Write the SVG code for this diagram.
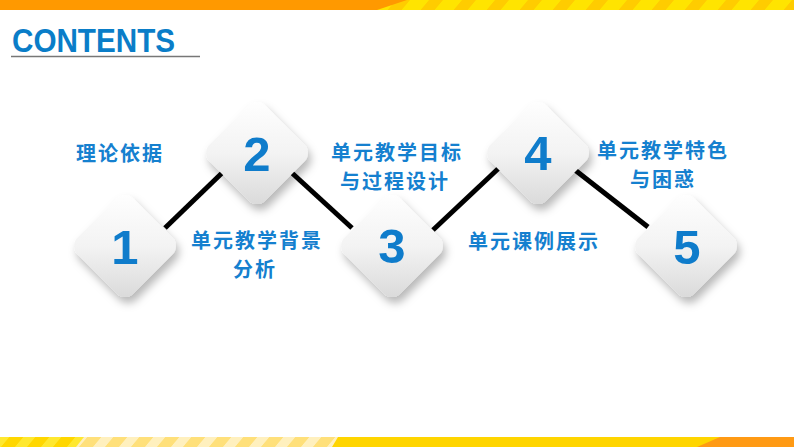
<svg xmlns="http://www.w3.org/2000/svg" width="794" height="447" viewBox="0 0 794 447">
<defs>
<style>
.lbl{font-family:"Noto Sans CJK SC","Noto Sans",sans-serif;font-weight:700;font-size:20px;letter-spacing:2px;fill:#1580CF;text-anchor:middle}
.num{font-family:"Liberation Sans",Arial,sans-serif;font-weight:700;font-size:49px;fill:#0F7CCB;text-anchor:middle}
.con{stroke:#000;stroke-width:5;stroke-linecap:butt;fill:none}
</style>
<linearGradient id="dg" x1="0" y1="0" x2="1" y2="1">
<stop offset="0" stop-color="#FFFFFF"/>
<stop offset="0.5" stop-color="#F3F3F3"/>
<stop offset="1" stop-color="#D8D8D8"/>
</linearGradient>
<filter id="sh" x="-30%" y="-30%" width="170%" height="170%">
<feDropShadow dx="3" dy="6" stdDeviation="4" flood-color="#000" flood-opacity="0.28"/>
</filter>
<pattern id="stripeY" width="33" height="12" patternUnits="userSpaceOnUse" patternTransform="skewX(-40)">
<rect width="33" height="12" fill="#FFE400"/>
<rect width="14" height="12" fill="#FFCC00"/>
</pattern>
<pattern id="stripeB" width="26" height="12" patternUnits="userSpaceOnUse" patternTransform="skewX(-40)">
<rect width="26" height="12" fill="#FFD700"/>
<rect width="12" height="12" fill="#FFE830"/>
</pattern>
<pattern id="stripeP" width="26" height="12" patternUnits="userSpaceOnUse" patternTransform="skewX(-40)">
<rect width="26" height="12" fill="#FFE07A"/>
<rect width="12" height="12" fill="#FFF0BE"/>
</pattern>
<rect id="dia" x="-39.5" y="-39.5" width="79" height="79" rx="12" transform="rotate(45)" fill="url(#dg)"/>
</defs>
<rect width="794" height="447" fill="#FFFFFF"/>

<g id="top-band">
<rect x="0" y="0" width="794" height="10" fill="url(#stripeY)"/>
<polygon points="0,0 407,0 377,10 0,10" fill="#FF9900"/>
</g>
<g id="bottom-band">
<rect x="0" y="437" width="794" height="10" fill="#FFD500"/>
<rect x="0" y="437" width="90" height="10" fill="url(#stripeB)"/>
<polygon points="84,437 338,437 332,447 76,447" fill="url(#stripeP)"/>
<polygon points="720,437 794,437 794,447 697,447" fill="#FF9A14"/>
</g>

<g id="title">
<text x="12" y="52" font-family="Liberation Sans, Arial, sans-serif" font-weight="700" font-size="33" fill="#0A7DC8" textLength="163" lengthAdjust="spacingAndGlyphs">CONTENTS</text>
<line x1="11" y1="56.5" x2="200" y2="56.5" stroke="#777" stroke-width="1.5"/>
</g>

<g id="connectors">
<line class="con" x1="165" y1="228" x2="222" y2="173"/>
<line class="con" x1="292" y1="173" x2="352" y2="228"/>
<line class="con" x1="433" y1="230" x2="500" y2="167"/>
<line class="con" x1="575" y1="170" x2="648" y2="227"/>
</g>

<g id="node1" filter="url(#sh)"><use href="#dia" x="125" y="246"/></g>
<g id="node2" filter="url(#sh)"><use href="#dia" x="257" y="153"/></g>
<g id="node3" filter="url(#sh)"><use href="#dia" x="392" y="246"/></g>
<g id="node4" filter="url(#sh)"><use href="#dia" x="538" y="153"/></g>
<g id="node5" filter="url(#sh)"><use href="#dia" x="686" y="246"/></g>

<g id="numbers">
<text class="num" x="125" y="264">1</text>
<text class="num" x="257" y="171">2</text>
<text class="num" x="392" y="263">3</text>
<text class="num" x="538" y="170">4</text>
<text class="num" x="687" y="264">5</text>
</g>

<g id="label1"><text class="lbl" x="120" y="161">理论依据</text></g>
<g id="label2"><text class="lbl"><tspan x="257" y="248">单元教学背景</tspan><tspan x="255" y="277">分析</tspan></text></g>
<g id="label3"><text class="lbl"><tspan x="397" y="160">单元教学目标</tspan><tspan x="395" y="189">与过程设计</tspan></text></g>
<g id="label4"><text class="lbl" x="534" y="249">单元课例展示</text></g>
<g id="label5"><text class="lbl"><tspan x="663" y="158">单元教学特色</tspan><tspan x="663" y="187">与困惑</tspan></text></g>
</svg>
